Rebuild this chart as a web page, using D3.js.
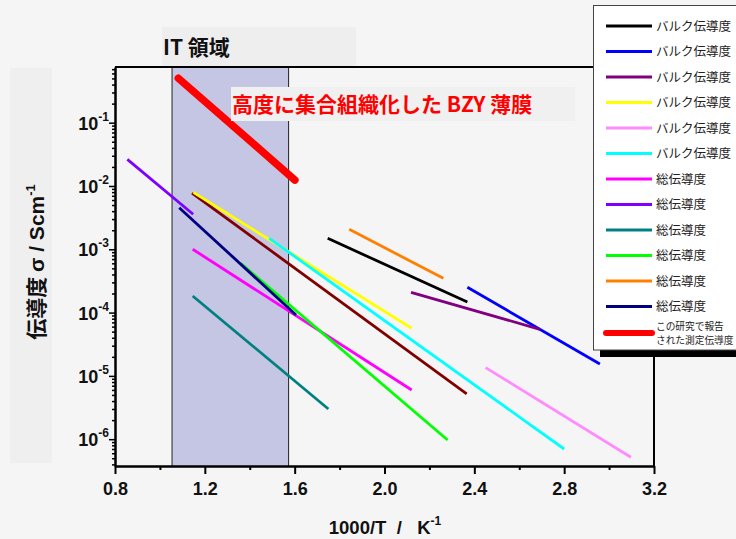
<!DOCTYPE html>
<html>
<head>
<meta charset="utf-8">
<script src="https://cdn.jsdelivr.net/npm/d3@7"></script>
<style>
  html, body { margin: 0; padding: 0; background: #f5f5f5; }
  svg { display: block; }
</style>
</head>
<body>
<script>
// ---------------- data ----------------
const seriesNames = [
  "(未記載)",
  "バルク伝導度", "バルク伝導度", "バルク伝導度", "バルク伝導度", "バルク伝導度", "バルク伝導度",
  "総伝導度", "総伝導度", "総伝導度", "総伝導度", "総伝導度", "総伝導度",
  "この研究で報告された測定伝導度"
];
// 1000/T start and end of each line
const invT = [
  [1.143, 2.366],
  [1.747, 2.369],
  [2.369, 2.959],
  [2.118, 2.692],
  [1.149, 2.121],
  [2.450, 3.097],
  [1.487, 2.800],
  [1.146, 2.121],
  [0.855, 1.148],
  [1.146, 1.750],
  [1.360, 2.281],
  [1.843, 2.262],
  [1.086, 1.606],
  [1.082, 1.601]
];
// conductivity σ (S/cm) at start and end
const sigma = [
  [7.74e-3, 5.18e-6],
  [1.49e-3, 1.47e-4],
  [2.51e-4, 1.54e-5],
  [2.09e-4, 5.44e-5],
  [7.94e-3, 5.65e-5],
  [1.35e-5, 5.18e-7],
  [1.49e-3, 7.0e-7],
  [1.0e-3, 5.98e-6],
  [2.63e-2, 3.57e-3],
  [1.83e-4, 3.0e-6],
  [6.01e-4, 9.7e-7],
  [2.07e-3, 3.48e-4],
  [4.54e-3, 9.16e-5],
  [0.504, 1.24e-2]
];
const inLegend = [false, true, true, true, true, true, true, true, true, true, true, true, true, true];
const itRegion = [1.054, 1.573];
const xMajorTicks = [0.8, 1.2, 1.6, 2.0, 2.4, 2.8, 3.2];
const xMinorTicks = [1.0, 1.4, 1.8, 2.2, 2.6, 3.0];
const yMajorExp = [-1, -2, -3, -4, -5, -6];
const titleText = "IT 領域";
const annotText = "高度に集合組織化した BZY 薄膜";

// ---------------- styles ----------------
const colors = ["#800000", "#000000", "#0000ff", "#800080", "#ffff00", "#ff8cff", "#00ffff",
                "#ff00ff", "#8000ff", "#008080", "#00ff00", "#ff8000", "#000080", "#ff0000"];
const widths = [2.8, 2.8, 2.8, 2.8, 2.8, 2.8, 2.8, 2.8, 2.8, 2.8, 2.8, 2.8, 2.8, 7.5];
const LATIN = "'Liberation Sans', Arial, sans-serif";
const CJK = "'Noto Sans CJK JP', 'Liberation Sans', sans-serif";

const W = 736, H = 539;
const L = 115, R = 654, T = 67, B = 466;

const svg = d3.select("body").append("svg").attr("width", W).attr("height", H);
svg.append("rect").attr("width", W).attr("height", H).attr("fill", "#f5f5f5");

const x = d3.scaleLinear().domain([0.8, 3.2]).range([L, R]);
const y = d3.scaleLog().domain([3.77e-7, 0.758]).range([B, T]);

// y-label background box
svg.append("rect").attr("x", 10).attr("y", 68).attr("width", 42).attr("height", 395).attr("fill", "#efefef");
// title box
svg.append("rect").attr("x", 162).attr("y", 27).attr("width", 194).attr("height", 39).attr("fill", "#eeeeee");
svg.append("text").attr("x", 163).attr("y", 55)
  .attr("font-family", CJK).attr("font-weight", "bold").attr("font-size", 21)
  .attr("fill", "#111").text(titleText);

// IT region
svg.append("rect").attr("x", x(itRegion[0])).attr("y", T)
  .attr("width", x(itRegion[1]) - x(itRegion[0])).attr("height", B - T)
  .attr("fill", "#c5c5e4");
itRegion.forEach(v => svg.append("line").attr("x1", x(v)).attr("x2", x(v)).attr("y1", T).attr("y2", B)
  .attr("stroke", "#222").attr("stroke-width", 1));

// lines
const line = d3.line().x(d => x(d[0])).y(d => y(d[1]));
invT.forEach((xs, i) => {
  const pts = [[xs[0], sigma[i][0]], [xs[1], sigma[i][1]]];
  svg.append("path").attr("d", line(pts)).attr("fill", "none")
    .attr("stroke", colors[i]).attr("stroke-width", widths[i])
    .attr("stroke-linecap", i === 13 ? "round" : "butt");
});

// annotation box
svg.append("rect").attr("x", 231).attr("y", 87).attr("width", 344).attr("height", 34).attr("fill", "#f0f0f0");
svg.append("text").attr("x", 232).attr("y", 112)
  .attr("font-family", CJK).attr("font-weight", "bold").attr("font-size", 21)
  .attr("fill", "#ff0000").text(annotText);

// frame
svg.append("line").attr("x1", L).attr("x2", R).attr("y1", T).attr("y2", T).attr("stroke", "#000").attr("stroke-width", 2);
svg.append("line").attr("x1", R).attr("x2", R).attr("y1", T).attr("y2", B).attr("stroke", "#000").attr("stroke-width", 2);

// x axis
const gx = svg.append("g").attr("transform", `translate(0,${B})`);
gx.call(d3.axisBottom(x).tickValues(xMajorTicks).tickSize(8).tickSizeOuter(0).tickFormat(d3.format(".1f")));
gx.append("g").call(d3.axisBottom(x).tickValues(xMinorTicks).tickSize(4).tickSizeOuter(0).tickFormat(""));
gx.selectAll("path.domain").attr("stroke", "#000").attr("stroke-width", 2);
gx.selectAll(".tick line").attr("stroke", "#000").attr("stroke-width", 2);
gx.selectAll("text").attr("font-family", LATIN).attr("font-weight", "bold").attr("font-size", 18)
  .attr("fill", "#111").attr("dy", "1.0em");

// y axis
const yMinor = [];
for (let e = -7; e <= 0; e++) for (let m = 2; m <= 9; m++) {
  const v = m * Math.pow(10, e);
  if (v >= 3.77e-7 && v <= 0.758) yMinor.push(v);
}
const gy = svg.append("g").attr("transform", `translate(${L},0)`);
gy.call(d3.axisLeft(y).tickValues(yMajorExp.map(e => Math.pow(10, e))).tickSize(6).tickSizeOuter(0).tickFormat(""));
gy.append("g").call(d3.axisLeft(y).tickValues(yMinor).tickSize(3).tickSizeOuter(0).tickFormat(""));
gy.selectAll("path.domain").attr("stroke", "#000").attr("stroke-width", 2);
gy.selectAll(".tick line").attr("stroke", "#000").attr("stroke-width", 1.5);
yMajorExp.forEach(e => {
  const t = svg.append("text").attr("x", 109).attr("y", y(Math.pow(10, e)) + 7)
    .attr("text-anchor", "end").attr("font-family", LATIN).attr("font-weight", "bold")
    .attr("font-size", 18).attr("fill", "#111");
  t.append("tspan").text("10");
  t.append("tspan").attr("dy", -9).attr("font-size", 12).text(String(e));
});

// axis titles
const xt = svg.append("text").attr("x", 385).attr("y", 534).attr("text-anchor", "middle")
  .attr("font-family", LATIN).attr("font-weight", "bold").attr("font-size", 18.5).attr("fill", "#111")
  .style("white-space", "pre");
xt.append("tspan").text("1000/T  /   K");
xt.append("tspan").attr("dy", -9).attr("font-size", 12).text("-1");

const yt = svg.append("text").attr("transform", "translate(44,262) rotate(-90)").attr("text-anchor", "middle")
  .attr("font-family", CJK).attr("font-weight", "bold").attr("font-size", 21).attr("fill", "#111");
yt.append("tspan").text("伝導度 ");
yt.append("tspan").attr("font-family", LATIN).text("σ / Scm");
yt.append("tspan").attr("font-family", LATIN).attr("dy", -9).attr("font-size", 13).text("-1");

// legend
svg.append("rect").attr("x", 600).attr("y", 350).attr("width", 140).attr("height", 7).attr("fill", "#000");
svg.append("rect").attr("x", 593.5).attr("y", 5.5).attr("width", 150).attr("height", 344.5)
  .attr("fill", "#ffffff").attr("stroke", "#444").attr("stroke-width", 1);
let row = 0;
seriesNames.forEach((name, i) => {
  if (!inLegend[i]) return;
  const cy = 26 + row * 25.5 + (i === 13 ? 1 : 0);
  svg.append("line").attr("x1", 606).attr("x2", 652).attr("y1", cy).attr("y2", cy)
    .attr("stroke", colors[i]).attr("stroke-width", i === 13 ? 6 : 2.8)
    .attr("stroke-linecap", i === 13 ? "round" : "butt");
  if (i === 13) {
    svg.append("text").attr("x", 656).attr("y", cy - 3)
      .attr("font-family", CJK).attr("font-size", 9.7).attr("fill", "#222").text("この研究で報告");
    svg.append("text").attr("x", 656).attr("y", cy + 11)
      .attr("font-family", CJK).attr("font-size", 9.7).attr("fill", "#222").text("された測定伝導度");
  } else {
    svg.append("text").attr("x", 656).attr("y", cy).attr("dy", "0.36em")
      .attr("font-family", CJK).attr("font-size", 12.5).attr("fill", "#222").text(name);
  }
  row++;
});
</script>
</body>
</html>
